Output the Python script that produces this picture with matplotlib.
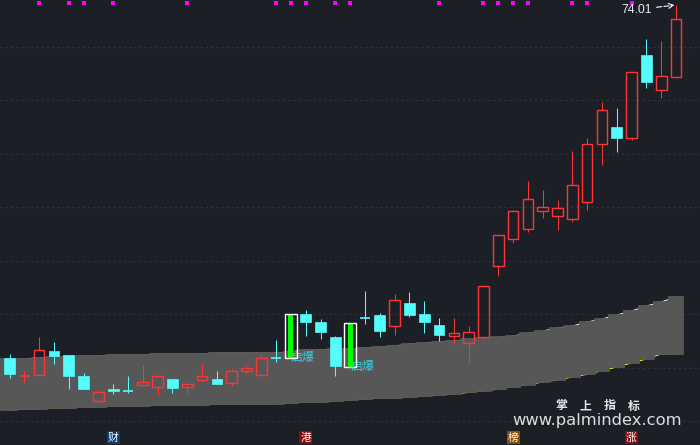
import numpy as np
import matplotlib
matplotlib.use('Agg')
import matplotlib.pyplot as plt
from matplotlib.patches import Rectangle
import matplotlib.transforms as mtransforms

plt.rcParams['font.family'] = ['Noto Sans CJK SC', 'DejaVu Sans']
plt.rcParams['lines.scale_dashes'] = False

# ---------------- data ----------------
opens = [42.21, 40.58, 40.68, 42.87, 42.51, 40.62, 38.40, 39.48, 39.27, 39.84,
         39.66, 40.35, 39.60, 40.29, 40.35, 40.02, 41.04, 40.68, 42.24, 42.27,
         46.20, 45.48, 44.13, 41.46, 45.89, 46.11, 45.09, 47.19, 46.20, 45.21,
         44.19, 43.56, 44.16, 50.49, 52.98, 53.82, 55.44, 55.01, 54.72, 56.25,
         61.47, 63.03, 62.01, 69.51, 66.33, 67.56]
highs = [42.60, 41.07, 44.13, 43.68, 42.51, 40.89, 39.36, 39.90, 40.62, 41.61,
         40.65, 40.35, 39.87, 41.70, 41.07, 41.25, 41.70, 42.60, 43.86, 46.17,
         46.56, 45.75, 44.22, 45.39, 48.27, 46.29, 48.00, 48.18, 47.37, 45.84,
         45.84, 45.12, 48.69, 53.28, 55.56, 58.17, 57.36, 56.46, 60.87, 62.04,
         65.28, 64.74, 67.95, 70.95, 70.77, 74.01]
lows = [40.47, 40.02, 40.68, 41.73, 39.48, 39.48, 38.28, 39.03, 39.12, 39.75,
        38.94, 39.12, 39.12, 40.20, 39.93, 39.75, 40.83, 40.68, 41.91, 42.27,
        44.25, 43.98, 40.65, 41.46, 45.33, 44.16, 44.34, 45.93, 44.52, 43.80,
        43.53, 41.82, 43.92, 49.65, 52.56, 53.61, 54.87, 53.79, 54.45, 55.59,
        59.64, 60.81, 61.89, 66.57, 65.67, 67.56]
closes = [40.83, 40.60, 42.93, 42.45, 40.65, 39.48, 39.15, 39.30, 39.23, 40.05,
          40.59, 39.57, 39.87, 40.59, 39.93, 41.07, 41.34, 42.21, 42.19, 46.17,
          45.51, 44.61, 41.55, 45.39, 45.84, 44.70, 47.43, 46.14, 45.51, 44.34,
          44.49, 44.55, 48.69, 53.28, 55.44, 56.52, 55.80, 55.71, 57.78, 61.47,
          64.53, 62.07, 67.95, 67.11, 67.59, 72.72]
band_upper = [42.15, 42.15, 42.24, 42.33, 42.33, 42.42, 42.42, 42.51, 42.51, 42.51,
              42.60, 42.60, 42.60, 42.60, 42.69, 42.69, 42.69, 42.69, 42.69, 42.81,
              42.96, 42.96, 43.05, 43.05, 43.14, 43.23, 43.32, 43.50, 43.59, 43.68,
              43.77, 43.91, 44.01, 44.10, 44.22, 44.46, 44.67, 44.94, 45.12, 45.48,
              45.75, 46.11, 46.47, 46.92, 47.28, 47.73]
band_lower = [37.56, 37.65, 37.65, 37.74, 37.74, 37.83, 37.83, 37.92, 37.92, 37.92,
              38.01, 38.01, 38.01, 38.01, 38.10, 38.10, 38.10, 38.10, 38.10, 38.19,
              38.28, 38.28, 38.37, 38.46, 38.55, 38.64, 38.64, 38.73, 38.82, 38.91,
              39.00, 39.15, 39.27, 39.45, 39.66, 39.84, 40.08, 40.26, 40.53, 40.77,
              41.10, 41.43, 41.79, 42.15, 42.60, 42.60]
qibao_idx = [19, 23]
qibao_text = '启爆'
dot_idx = [2, 4, 5, 7, 12, 18, 19, 20, 22, 23, 29, 32, 33, 34, 35, 38, 39, 42]
tag_idx = [7, 20, 34, 42]
tag_text = ['财', '港', '榜', '涨']
tag_colors = ['#0b3d73', '#8b0a0a', '#8a4b06', '#8b0a0a']
wm_chars = ['掌', '上', '指', '标']
wm_url = 'www.palmindex.com'

# ---------------- style ----------------
BG = '#1c1f26'
RED = '#ff3535'
CYAN = '#54fcfc'
GRAY = '#575757'
W, H = 700, 445

fig = plt.figure(figsize=(7, 4.45), dpi=100, facecolor=BG)
ax = fig.add_axes([0, 0, 1, 1])
ax.set_facecolor(BG)
ax.set_xlim(-0.6415, 46.62)
ax.set_ylim(34.41, 74.46)
ax.set_axis_off()

trans = mtransforms.blended_transform_factory(ax.transData, ax.transAxes)

# dashed grid lines (evenly spaced in screen)
for k in range(8):
    yf = 1 - (47 + 53.43 * k) / H
    ax.plot([0, 1], [yf, yf], transform=ax.transAxes, color='#30343d',
            lw=0.8, dashes=(1.5, 2.2), zorder=0.5)

n = len(opens)
x = np.arange(n)

# band lines (peek out behind band)
ax.plot(x, band_upper, color='white', lw=0.7, zorder=1.5)
ax.plot(x, band_lower, color='#ffff00', lw=0.7, zorder=1.5)
edges = np.arange(n + 1) - 0.5
edges[0] = -0.7
ax.stairs(band_upper, edges, baseline=band_lower, fill=True, facecolor=GRAY,
          edgecolor=GRAY, linewidth=1.3, zorder=2)

# candles
w = 0.72
wlw = 0.75
for i in range(n):
    o, h, l, c = opens[i], highs[i], lows[i], closes[i]
    if i in qibao_idx:
        ax.text(i, o, qibao_text, color='#3ccce0', fontsize=8.6,
                ha='left', va='center', zorder=4)
        ax.add_patch(Rectangle((i - 0.42, min(o, c)), 0.84, abs(c - o), fill=False,
                               ec='white', lw=1.0, zorder=6))
        ax.add_patch(Rectangle((i - 0.17, min(o, c)), 0.34, abs(c - o),
                               fc='#00ff00', ec='none', zorder=5))
        continue
    if c >= o:
        top, bot = c, o
        if top - bot < 0.1:
            ax.vlines(i, l, h, color=RED, lw=wlw, zorder=3)
            ax.hlines((o + c) / 2, i - w / 2, i + w / 2, color=RED, lw=1.1, zorder=3)
        else:
            if h > top:
                ax.vlines(i, top, h, color=RED, lw=wlw, zorder=3)
            if l < bot:
                ax.vlines(i, l, bot, color=RED, lw=wlw, zorder=3)
            ax.add_patch(Rectangle((i - w / 2, bot), w, top - bot, fill=False,
                                   ec=RED, lw=1.0, zorder=4))
    else:
        ax.vlines(i, l, h, color=CYAN, lw=wlw, zorder=3)
        if o - c < 0.1:
            ax.hlines((o + c) / 2, i - w / 2, i + w / 2, color=CYAN, lw=1.2, zorder=4)
        else:
            ax.add_patch(Rectangle((i - w / 2, c), w, o - c, fc=CYAN, ec=CYAN,
                                   lw=0.5, zorder=4))

# magenta dots on top
ax.scatter(dot_idx, [1 - 2.5 / H] * len(dot_idx), marker='s', s=5, color='#ff00ff',
           transform=trans, clip_on=False, zorder=7, linewidths=0)

# high annotation
imax = int(np.argmax(highs))
ax.annotate(f'{highs[imax]:.2f}', xy=(imax, highs[imax]), xytext=(-17.5, -3.3),
            textcoords='offset points', ha='right', va='center', color='#e4ecf4',
            fontsize=8.8, family='Liberation Sans',
            arrowprops=dict(arrowstyle='->', color='white', lw=0.8, linestyle='--',
                            shrinkA=1.5, shrinkB=1), zorder=8)

# bottom tags
for i, t, col in zip(tag_idx, tag_text, tag_colors):
    ax.text(i, 1 - 437.5 / H, t, transform=trans, ha='center', va='center',
            color='white', fontsize=7.8,
            bbox=dict(boxstyle='square,pad=0.1', fc=col, ec='none'), zorder=8)

# watermark
for k, ch in enumerate(wm_chars):
    fig.text((561 + 24.3 * k) / W, 1 - 406 / H, ch, ha='center', va='center',
             color='#e8e8e8', fontsize=8.6, fontweight='bold')
fig.text(597 / W, 1 - 421 / H, wm_url, ha='center', va='center', color='#dedede',
         fontsize=11.8, family='DejaVu Sans')

fig.savefig('out.png', dpi=100, facecolor=BG)
